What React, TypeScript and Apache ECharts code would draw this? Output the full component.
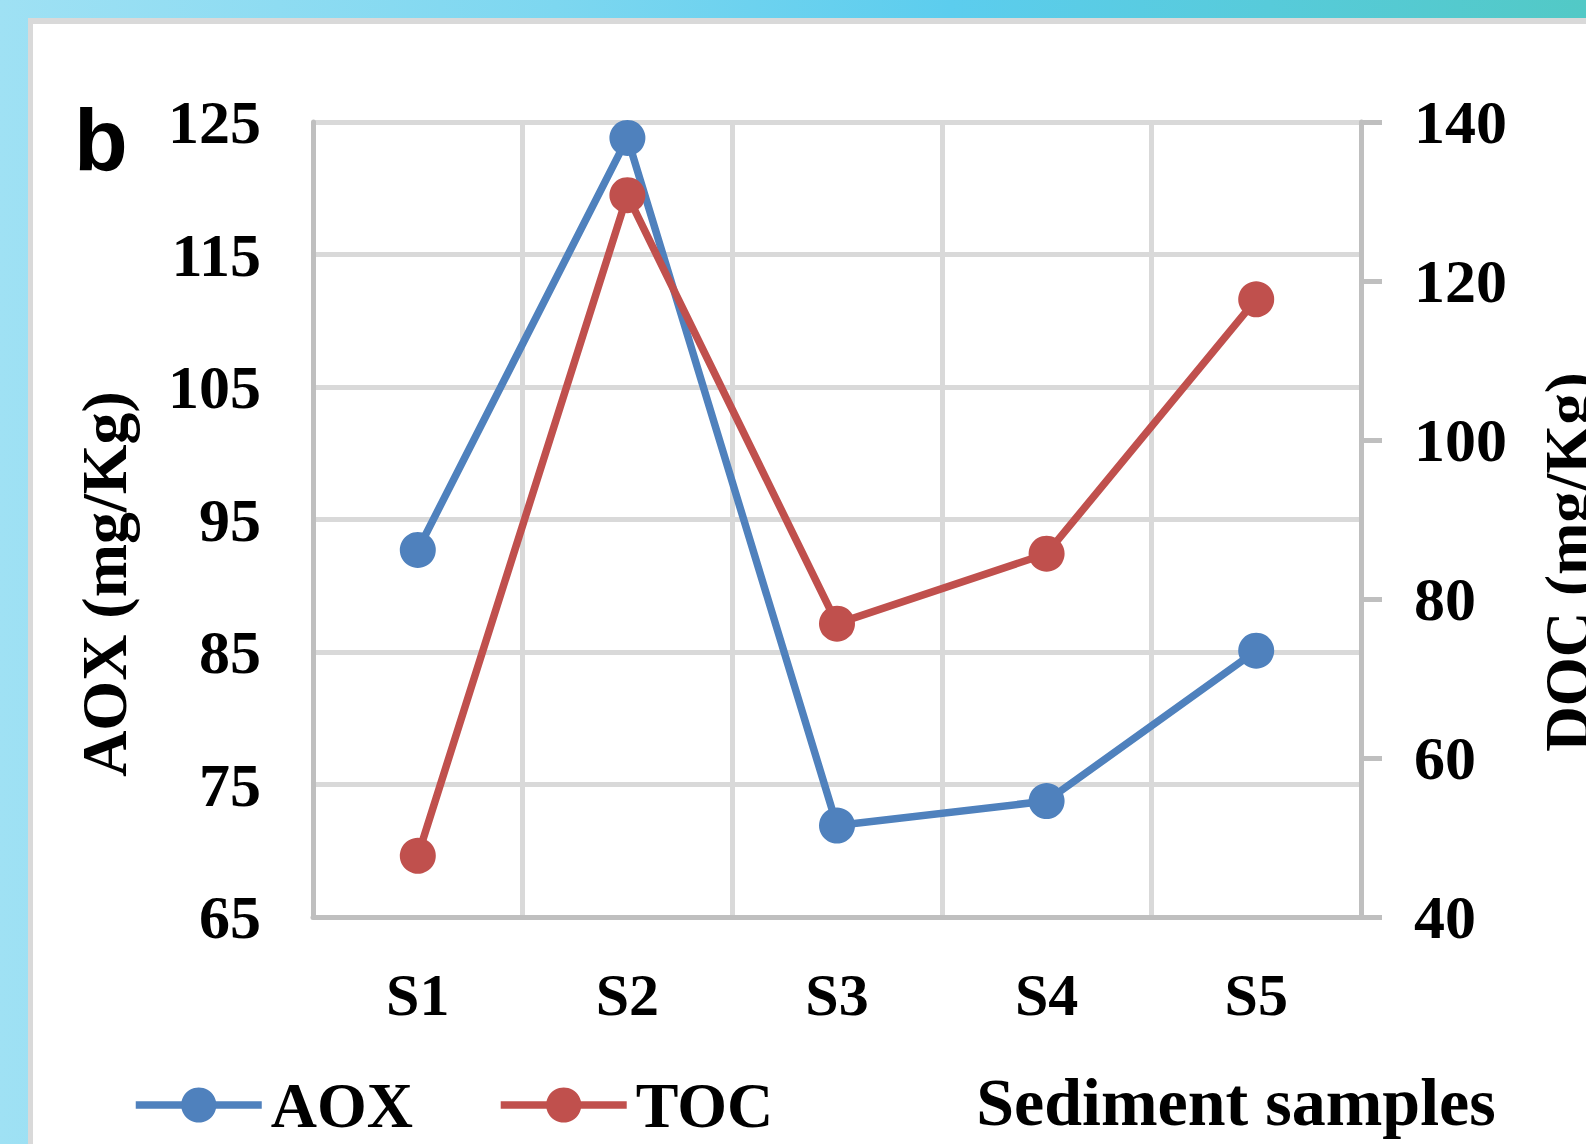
import React, { useEffect, useRef } from "react";
import * as echarts from "echarts";

const categories = ["S1", "S2", "S3", "S4", "S5"];
const aoxValues = [92.7, 123.8, 71.9, 73.75, 85.1];
const tocValues = [47.7, 130.8, 76.9, 85.7, 117.7];
const aoxTicks = [65, 75, 85, 95, 105, 115, 125];
const seriesNames = ["AOX", "TOC"];
const leftTitle = "AOX (mg/Kg)";
const rightTitle = "DOC (mg/Kg)";
const xTitle = "Sediment samples";
const panelLabel = "b";

const SERIF = "'Liberation Serif', 'Times New Roman', serif";
const SANS = "'Liberation Sans', Arial, sans-serif";

export default function App() {
  const ref = useRef<HTMLDivElement>(null);

  useEffect(() => {
    document.body.style.margin = "0";
    if (!ref.current) return;
    const chart = echarts.init(ref.current, null, { renderer: "svg" });
    const axisGray = "#bfbfbf";
    const gridGray = "#d9d9d9";
    chart.setOption({
      animation: false,
      grid: { left: 313, top: 122, width: 1048, height: 795, containLabel: false },
      legend: {
        data: seriesNames,
        left: 127,
        top: 1068,
        itemWidth: 126,
        itemHeight: 44,
        itemGap: 84,
        lineStyle: { width: 7.5 },
        textStyle: { fontFamily: SERIF, fontWeight: "bold", fontSize: 64, color: "#000", padding: [0, 0, 0, 4] },
      },
      xAxis: {
        type: "category",
        data: categories,
        boundaryGap: true,
        axisLine: { show: true, onZero: false, lineStyle: { color: axisGray, width: 5 } },
        axisTick: { show: false },
        splitLine: { show: true, lineStyle: { color: gridGray, width: 5 } },
        axisLabel: { fontFamily: SERIF, fontWeight: "bold", fontSize: 60, color: "#000", margin: 48 },
      },
      yAxis: [
        {
          type: "value",
          min: 65,
          max: 125,
          position: "left",
          axisLine: { show: true, lineStyle: { color: axisGray, width: 5 } },
          axisTick: { show: false, customValues: aoxTicks },
          axisLabel: { customValues: aoxTicks, fontFamily: SERIF, fontWeight: "bold", fontSize: 62, color: "#000", margin: 52 },
          splitLine: { show: true, lineStyle: { color: gridGray, width: 5 } },
        },
        {
          type: "value",
          min: 40,
          max: 140,
          interval: 20,
          position: "right",
          axisLine: { show: true, lineStyle: { color: axisGray, width: 5 } },
          axisTick: { show: true, inside: false, length: 21, lineStyle: { color: axisGray, width: 5 } },
          axisLabel: { fontFamily: SERIF, fontWeight: "bold", fontSize: 62, color: "#000", margin: 53 },
          splitLine: { show: false },
        },
      ],
      series: [
        {
          name: seriesNames[0],
          type: "line",
          yAxisIndex: 0,
          data: aoxValues,
          symbol: "circle",
          symbolSize: 36,
          lineStyle: { color: "#4F81BD", width: 7.5 },
          itemStyle: { color: "#4F81BD" },
        },
        {
          name: seriesNames[1],
          type: "line",
          yAxisIndex: 1,
          data: tocValues,
          symbol: "circle",
          symbolSize: 36,
          lineStyle: { color: "#C0504D", width: 7.5 },
          itemStyle: { color: "#C0504D" },
        },
      ],
      graphic: [
        {
          type: "text",
          x: 74,
          y: 139,
          style: { text: panelLabel, font: `bold 88px ${SANS}`, fill: "#000", align: "left", verticalAlign: "middle" },
        },
        {
          type: "text",
          x: 104,
          y: 584,
          rotation: Math.PI / 2,
          style: { text: leftTitle, font: `bold 64px ${SERIF}`, fill: "#000", align: "center", verticalAlign: "middle" },
        },
        {
          type: "text",
          x: 1568,
          y: 562,
          rotation: Math.PI / 2,
          style: { text: rightTitle, font: `bold 63px ${SERIF}`, fill: "#000", align: "center", verticalAlign: "middle" },
        },
        {
          type: "text",
          x: 1236,
          y: 1102,
          style: { text: xTitle, font: `bold 68px ${SERIF}`, fill: "#000", align: "center", verticalAlign: "middle" },
        },
      ],
    });
    return () => chart.dispose();
  }, []);

  return (
    <div
      style={{
        position: "absolute",
        left: 0,
        top: 0,
        width: 1586,
        height: 1144,
        overflow: "hidden",
        background: "linear-gradient(90deg, #9fe1f4 0%, #7dd7f0 35%, #5ccdee 60%, #52c9c6 100%)",
      }}
    >
      <div
        style={{
          position: "absolute",
          left: 28,
          top: 18,
          right: 0,
          bottom: 0,
          background: "#ffffff",
          borderLeft: "5px solid #d9d9d9",
          borderTop: "6px solid #d9d9d9",
        }}
      />
      <div ref={ref} style={{ position: "absolute", left: 0, top: 0, width: 1586, height: 1144 }} />
    </div>
  );
}
